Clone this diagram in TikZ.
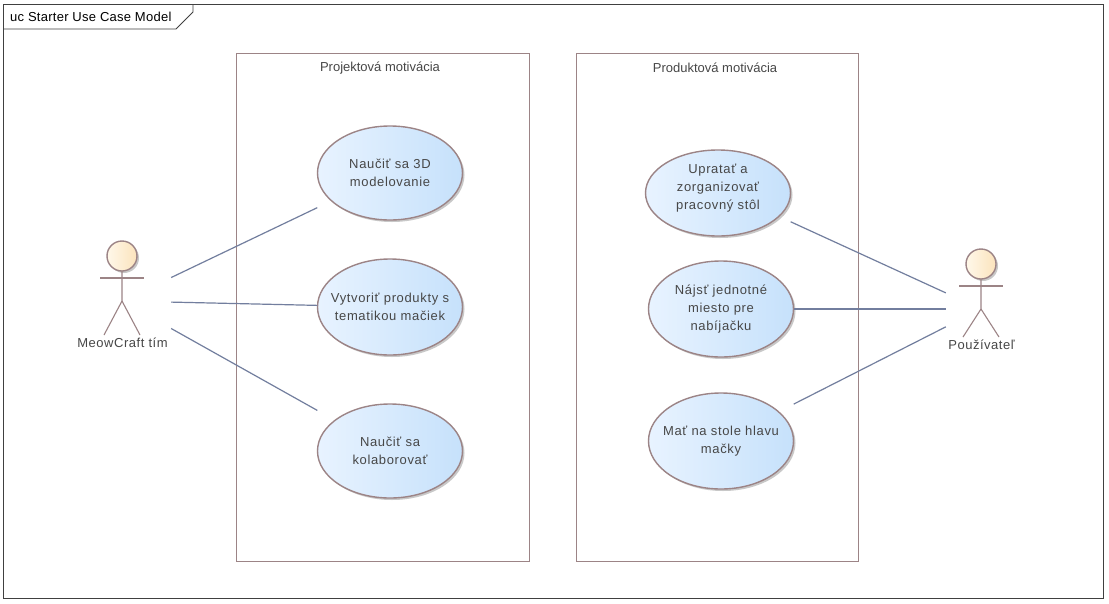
\documentclass[tikz,border=0pt]{standalone}
\usepackage{fontspec}
\setmainfont{Liberation Sans}
\usetikzlibrary{shadows,calc}
\definecolor{umlline}{HTML}{9C8486}
\definecolor{umlassoc}{HTML}{727E9E}
\definecolor{umltext}{HTML}{474747}
\definecolor{caseleft}{HTML}{E8F3FF}
\definecolor{caseright}{HTML}{C6E1FB}
\definecolor{headleft}{HTML}{FFF8EA}
\definecolor{headright}{HTML}{FBE3BC}
\newcommand{\usecase}[5][]{
\shade[caseshape] (#3) ellipse [x radius=72.5pt,y radius=#4pt];
\node[casebox,minimum height=#4pt*2,#1] (#2) at (#3) {#5};
}
\newcommand{\actor}[5]{
\shade[headshape] (#2) ++(0,-45) circle [radius=15pt];
\draw[figure] (#2) ++(-22,-23) -- ++(44,0);
\draw[figure] (#2) ++(0,-30) -- ++(0,30) -- ++(-18,#4);
\draw[figure] (#2) -- ++(18,#4);
\node[actorbox,minimum width=#3pt] (#1) at (#2) {};
\node[actorname] (#1 name) at ($(#2)+(0.5,#4+7.5)$) {#5};
}
\begin{document}
\begin{tikzpicture}[x=1pt,y=-1pt]
\tikzset{every node/.style={font=\fontsize{13}{18}\selectfont,text=umltext}}
\tikzset{frame/.style={draw=black!75,line width=.9pt}}
\tikzset{boundary/.style={draw=umlline,line width=.9pt,inner sep=0pt}}
\tikzset{caseshape/.style={draw=umlline,line width=1.4pt,left color=caseleft,right color=caseright,
drop shadow={shadow xshift=2pt,shadow yshift=-2pt,opacity=.3,fill=black!70}}}
\tikzset{casebox/.style={font=\fontsize{13}{18}\selectfont\addfontfeature{LetterSpace=5},minimum width=145pt,inner sep=0pt,align=center}}
\tikzset{headshape/.style={draw=umlline,line width=1.4pt,left color=headleft,right color=headright,
drop shadow={shadow xshift=2pt,shadow yshift=-2pt,opacity=.3,fill=black!70}}}
\tikzset{figure/.style={draw=umlline,line width=1.1pt}}
\tikzset{actorbox/.style={minimum height=120pt,inner sep=0pt}}
\tikzset{actorname/.style={font=\fontsize{13}{18}\selectfont\addfontfeature{LetterSpace=4}}}
\tikzset{assoc/.style={draw=umlassoc,line width=1.2pt}}
\useasboundingbox (0,0) rectangle (1109,603);
\fill[white] (0,0) rectangle (1109,603);
\draw[frame] (3,4) rectangle (1103,598);
\draw[frame] (193,4) -- (193,12) -- (176,29) -- (3,29);
\node[anchor=west,inner sep=0pt,text=black,font=\fontsize{13}{18}\selectfont\addfontfeature{LetterSpace=2}] (frametitle) at (10,17) {uc Starter Use Case Model};
\node[boundary,minimum width=293pt,minimum height=508pt] (projekt) at (382.5,307) {};
\node[boundary,minimum width=282pt,minimum height=508pt] (produkt) at (717,307) {};
\node (projekttitle) at (380,68) {Projektová motivácia};
\node (produkttitle) at (715,68) {Produktová motivácia};
\usecase{naucit}{390,173}{47}{Naučiť sa 3D\\modelovanie}
\usecase{vytvorit}{390,307}{48}{Vytvoriť produkty s\\tematikou mačiek}
\usecase{kolaborovat}{390,451}{47}{Naučiť sa\\kolaborovať}
\usecase[yshift=4.5pt]{upratat}{718,193}{43}{Upratať a\\zorganizovať\\pracovný stôl}
\usecase{miesto}{721,309}{48}{Nájsť jednotné\\miesto pre\\nabíjačku}
\usecase{hlava}{721,441}{48}{Mať na stole hlavu\\mačky}
\actor{tim}{122,301}{98}{34}{MeowCraft tím}
\actor{pouzivatel}{981,309}{70}{28}{Používateľ}
\draw[assoc] (tim) -- (naucit);
\draw[assoc] (tim) -- (vytvorit);
\draw[assoc] (tim) -- (kolaborovat);
\draw[assoc] (pouzivatel) -- (upratat);
\draw[assoc] (pouzivatel) -- (miesto);
\draw[assoc] (pouzivatel) -- (hlava);
\end{tikzpicture}
\end{document}
